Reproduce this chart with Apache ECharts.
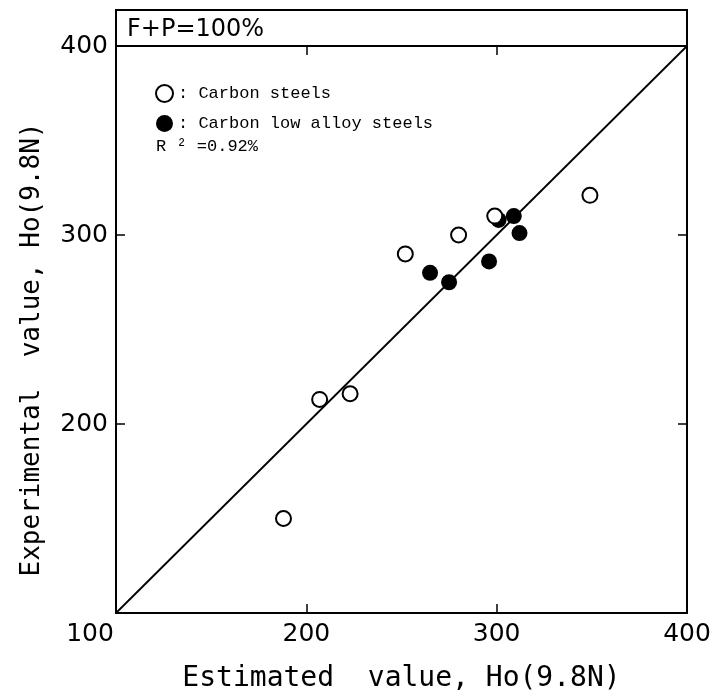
<!DOCTYPE html>
<html>
<head>
<meta charset="utf-8">
<script src="https://cdn.jsdelivr.net/npm/echarts@6/dist/echarts.min.js"></script>
<style>
  html, body { margin: 0; padding: 0; background: #fff; }
  #main { width: 727px; height: 698px; }
</style>
</head>
<body>
<div id="main"></div>
<script>
// values
const carbonX = [188, 207, 223, 252, 280, 299, 349]
const carbonY = [150, 213, 216, 290, 300, 310, 321]
const alloyX = [265, 275, 296, 301, 309, 312]
const alloyY = [280, 275, 286, 308, 310, 301]
const lineX = [100, 400]
const lineY = [100, 400]
const axisMin = 100
const axisMax = 400
const axisStep = 100

const pairs = (xs, ys) => xs.map((x, i) => [x, ys[i]])

const G = { left: 116, right: 40, top: 46, bottom: 82 }
const W = 727

const labelFont = { fontFamily: 'DejaVu Sans', fontSize: 25, color: '#000' }
const nameFont = { fontFamily: 'DejaVu Sans Mono', fontSize: 28, color: '#000' }

function axis (extra) {
  return Object.assign({
    type: 'value',
    min: axisMin,
    max: axisMax,
    interval: axisStep,
    axisLine: { show: true, onZero: false, lineStyle: { color: '#000', width: 2 } },
    axisTick: { show: true, inside: true, length: 9, lineStyle: { color: '#000', width: 1.5 } },
    splitLine: { show: false },
    axisLabel: { show: false }
  }, extra)
}

const chart = echarts.init(document.getElementById('main'))
chart.setOption({
  backgroundColor: '#fff',
  animation: false,
  grid: { left: G.left, right: G.right, top: G.top, bottom: G.bottom },
  title: [
    { text: 'F+P=100%', left: 122, top: 13,
      textStyle: { fontFamily: 'DejaVu Sans', fontSize: 24, fontWeight: 'normal', color: '#000' } },
    { text: 'R ² =0.92%', left: 151, top: 133,
      textStyle: { fontFamily: 'Liberation Mono', fontSize: 17, fontWeight: 'normal', color: '#000' } }
  ],
  legend: {
    orient: 'vertical',
    left: 150,
    top: 79,
    itemWidth: 17,
    itemHeight: 17,
    itemGap: 12,
    selectedMode: false,
    formatter: name => ': ' + name,
    textStyle: { fontFamily: 'Liberation Mono', fontSize: 17, color: '#000', lineHeight: 17 },
    data: [
      { name: 'Carbon steels', icon: 'circle', itemStyle: { color: '#fff', borderColor: '#000', borderWidth: 2 } },
      { name: 'Carbon low alloy steels', icon: 'circle', itemStyle: { color: '#000', borderWidth: 0 } }
    ]
  },
  graphic: [
    { type: 'rect', silent: true,
      shape: { x: G.left, y: 10, width: W - G.left - G.right, height: G.top - 10 },
      style: { fill: 'none', stroke: '#000', lineWidth: 2 } }
  ],
  xAxis: [
    axis({
      position: 'bottom',
      name: 'Estimated  value, Ho(9.8N)',
      nameLocation: 'middle',
      nameGap: 52,
      nameTextStyle: nameFont,
      axisLabel: {
        show: true, margin: 9, ...labelFont,
        formatter: v => v === axisMin ? '{c|' + v + '}' : String(v),
        rich: { c: { ...labelFont, padding: [0, 52, 0, 0] } }
      }
    }),
    axis({ position: 'top' })
  ],
  yAxis: [
    axis({
      position: 'left',
      name: 'Experimental  value, Ho(9.8N)',
      nameLocation: 'middle',
      nameGap: 71,
      nameTextStyle: { ...nameFont, fontSize: 26, padding: [0, 40, 0, 0] },
      axisLabel: { show: true, margin: 8, showMinLabel: false, ...labelFont }
    }),
    axis({ position: 'right' })
  ],
  series: [
    {
      type: 'line',
      data: pairs(lineX, lineY),
      symbol: 'none',
      lineStyle: { color: '#000', width: 1.8 },
      z: 1
    },
    {
      name: 'Carbon low alloy steels',
      type: 'scatter',
      data: pairs(alloyX, alloyY),
      symbol: 'circle',
      symbolSize: 16,
      itemStyle: { color: '#000', opacity: 1 },
      z: 2
    },
    {
      name: 'Carbon steels',
      type: 'scatter',
      data: pairs(carbonX, carbonY),
      symbol: 'circle',
      symbolSize: 15,
      itemStyle: { color: '#fff', borderColor: '#000', borderWidth: 2, opacity: 1 },
      z: 3
    }
  ]
})
</script>
</body>
</html>
